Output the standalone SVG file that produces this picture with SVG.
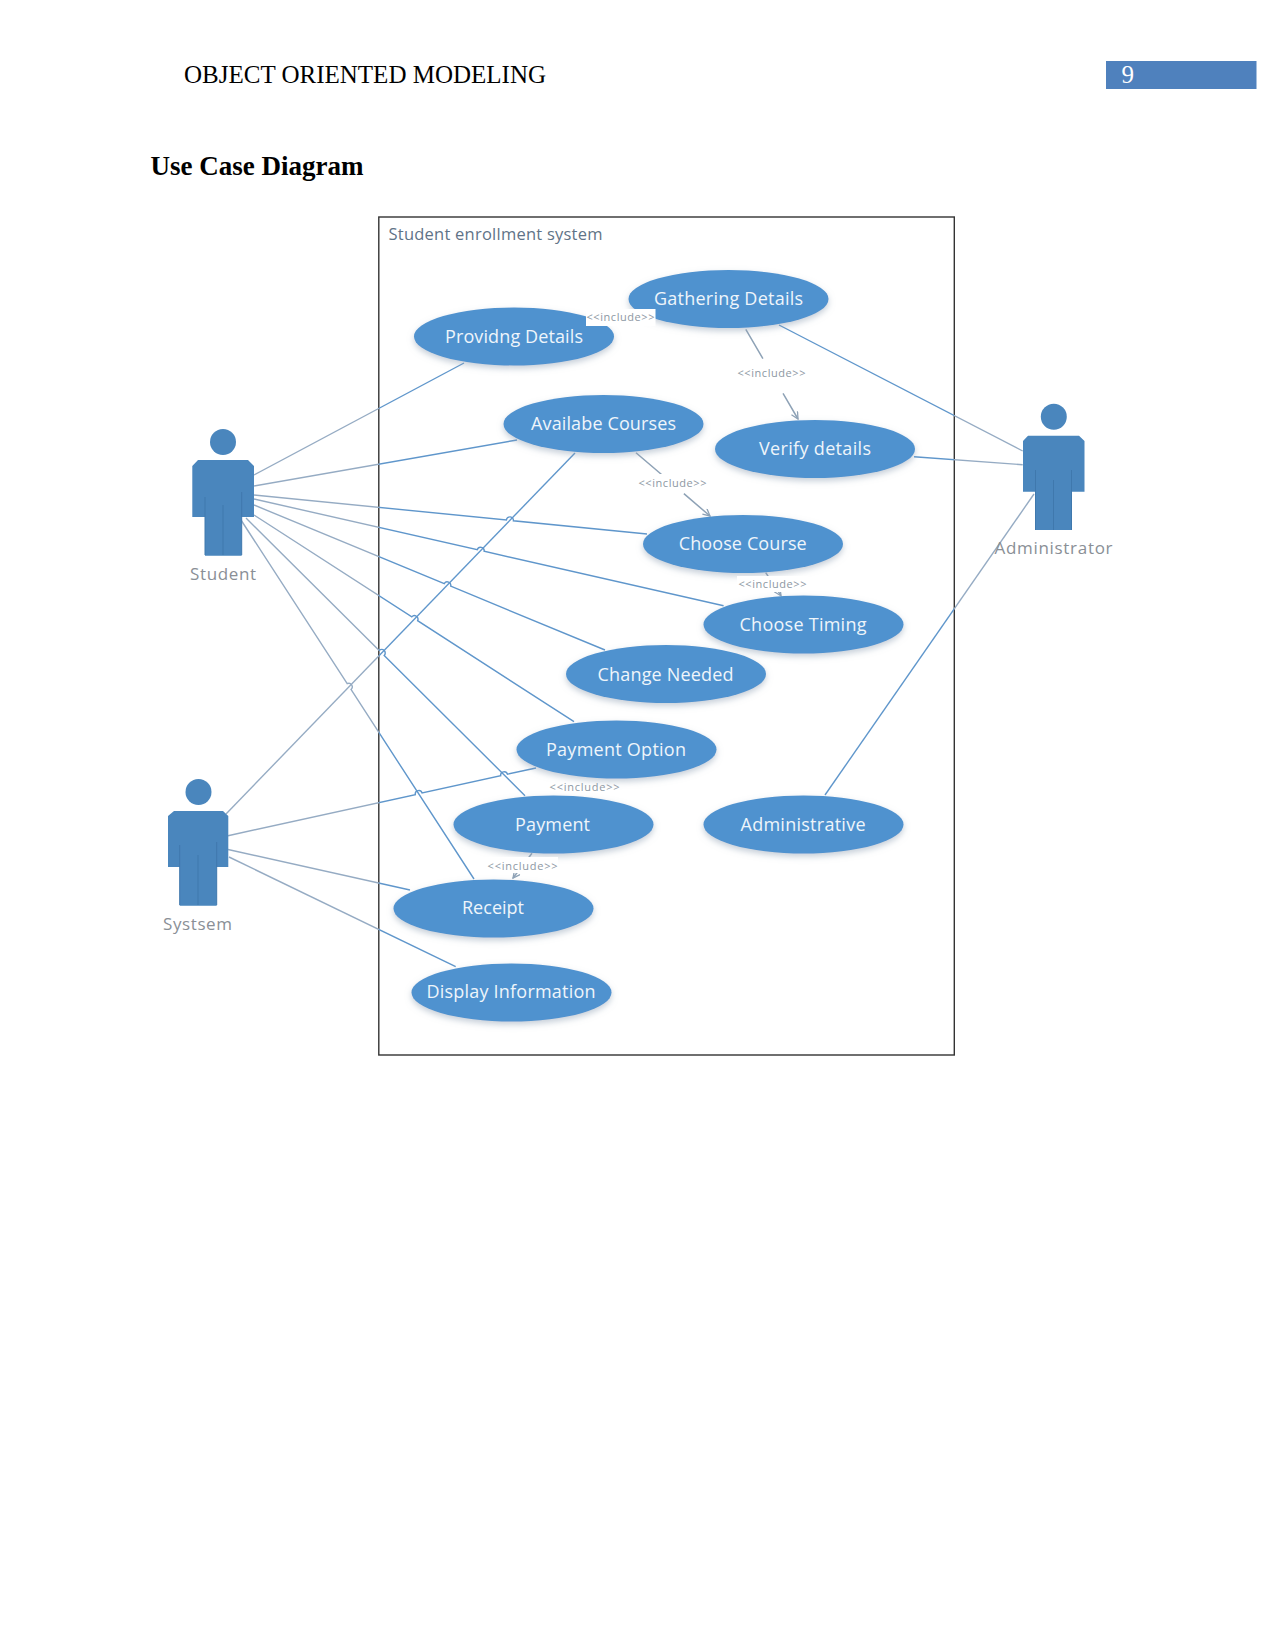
<svg xmlns="http://www.w3.org/2000/svg" width="1275" height="1650" viewBox="0 0 1275 1650">
<style>
.uc{fill:#5092cf;filter:url(#sh)}
.ut{fill:#eef5fb;font:18px "Open Sans",sans-serif;text-anchor:middle}
.act{fill:#4a86bd}
.seam{stroke:#3f78ad;stroke-width:1;fill:none}
.al{fill:#8a8f96;font:17px "Open Sans",sans-serif;text-anchor:middle}
.c{fill:none;stroke:url(#lineshade);stroke-width:1.4}
.d{fill:none;stroke:#8ea2b6;stroke-width:1.5;marker-end:url(#open)}
.inc{fill:#8d98a3;font:11px "Open Sans",sans-serif;text-anchor:middle}
.bg{fill:#fff}
</style>
<defs>
<linearGradient id="lineshade" gradientUnits="userSpaceOnUse" x1="0" y1="0" x2="1275" y2="0">
<stop offset="0.2969" stop-color="#95abc3"/><stop offset="0.2969" stop-color="#5f96cb"/><stop offset="0.7482" stop-color="#5f96cb"/><stop offset="0.7482" stop-color="#95abc3"/>
</linearGradient>
<filter id="sh" x="-10%" y="-20%" width="120%" height="150%"><feGaussianBlur in="SourceGraphic" stdDeviation="0.6" result="b"/><feDropShadow in="b" dx="0" dy="3" stdDeviation="3" flood-color="#8a9db0" flood-opacity="0.5"/></filter>
<marker id="open" markerWidth="12" markerHeight="12" refX="8" refY="4" orient="auto" markerUnits="userSpaceOnUse"><path d="M1,0.500 L8,4 L1,7.500" fill="none" stroke="#8ea2b6" stroke-width="1.3"/></marker>
</defs>
<rect width="1275" height="1650" fill="#fff"/>
<text id="header" x="184" y="83" font-family="Liberation Serif, serif" font-size="25.500" textLength="362" lengthAdjust="spacingAndGlyphs">OBJECT ORIENTED MODELING</text>
<g id="pagenum"><rect x="1106" y="61" width="150.500" height="28" fill="#4f81bd"/><text x="1121.500" y="83" font-family="Liberation Serif, serif" font-size="25" fill="#fff">9</text></g>
<text id="title" x="150.500" y="175" font-family="Liberation Serif, serif" font-size="27.500" font-weight="bold" textLength="213" lengthAdjust="spacingAndGlyphs">Use Case Diagram</text>
<g id="system-boundary"><rect x="378.800" y="217" width="575.500" height="838" fill="#fff" stroke="#333" stroke-width="1.4"/><text x="388.500" y="240" fill="#5f7387" font-family="Open Sans, sans-serif" font-size="16.500" textLength="214">Student enrollment system</text></g>
<g id="connectors">
<path class="c" d="M254,475 L464,363"/>
<path class="c" d="M254,486 L517,440"/>
<path class="c" d="M254,495 L506.400,520 A3.500,3.500 0 0 1 513.400,520.800 L647,534"/>
<path class="c" d="M254,499 L477.300,549.700 A3.500,3.500 0 0 1 484.100,551.300 L723.600,605.700"/>
<path class="c" d="M254,505 L444.300,583.600 A3.500,3.500 0 0 1 450.700,586.200 L605,650"/>
<path class="c" d="M254,515 L411.800,616.900 A3.500,3.500 0 0 1 417.600,620.700 L574,721.700"/>
<path class="c" d="M246,518 L379.200,650.500 A3.500,3.500 0 0 1 384.200,655.500 L525,795.700"/>
<path class="c" d="M241,520 L347.200,683.700 A3.500,3.500 0 0 1 351,689.500 L474,879"/>
<path class="c" d="M226,814 L575,453"/>
<path class="c" d="M228,835.700 L415.300,794.600 A3.500,3.500 0 0 1 422.100,793 L500.700,775.800 A3.500,3.500 0 0 1 507.500,774.200 L536,768"/>
<path class="c" d="M228,849.500 L410,890"/>
<path class="c" d="M229,857 L455.700,966.700"/>
<path class="c" d="M779,325 L1022.700,451"/>
<path class="c" d="M914,456.700 L1022.700,464.700"/>
<path class="c" d="M825,795 L1034,494"/>
<path class="d" stroke-dasharray="34 40 40" d="M745.800,329.300 L798,419"/>
<path class="d" stroke-dasharray="34 29 40" d="M636,452.700 L710,516"/>
<path class="d" d="M765.700,572.700 L781,595.700"/>
<path class="d" d="M532,853.300 L513,878"/>
</g>
<g id="uc-gathering"><ellipse class="uc" cx="728.500" cy="299" rx="100" ry="29"/><text class="ut" x="728.500" y="305" textLength="149">Gathering Details</text></g>
<g id="uc-providing"><ellipse class="uc" cx="514" cy="336.500" rx="100" ry="29"/><text class="ut" x="514" y="342.500" textLength="138">Providng Details</text></g>
<g id="uc-courses"><ellipse class="uc" cx="603.500" cy="424" rx="100" ry="29"/><text class="ut" x="603.500" y="430" textLength="145">Availabe Courses</text></g>
<g id="uc-verify"><ellipse class="uc" cx="815" cy="449" rx="100" ry="29"/><text class="ut" x="815" y="455" textLength="112">Verify details</text></g>
<g id="uc-course"><ellipse class="uc" cx="743" cy="544" rx="100" ry="29"/><text class="ut" x="742.700" y="550" textLength="128">Choose Course</text></g>
<g id="uc-timing"><ellipse class="uc" cx="803.500" cy="624.500" rx="100" ry="29"/><text class="ut" x="803" y="630.500" textLength="127">Choose Timing</text></g>
<g id="uc-change"><ellipse class="uc" cx="666" cy="674" rx="100" ry="29"/><text class="ut" x="665.500" y="680.500" textLength="136">Change Needed</text></g>
<g id="uc-option"><ellipse class="uc" cx="616.500" cy="749.500" rx="100" ry="29"/><text class="ut" x="616" y="755.500" textLength="140">Payment Option</text></g>
<g id="uc-payment"><ellipse class="uc" cx="553.500" cy="824.500" rx="100" ry="29"/><text class="ut" x="552.500" y="830.500" textLength="75">Payment</text></g>
<g id="uc-admin"><ellipse class="uc" cx="803.500" cy="824.500" rx="100" ry="29"/><text class="ut" x="803" y="830.500" textLength="125">Administrative</text></g>
<g id="uc-receipt"><ellipse class="uc" cx="493.500" cy="908.500" rx="100" ry="29"/><text class="ut" x="493" y="914" textLength="62">Receipt</text></g>
<g id="uc-display"><ellipse class="uc" cx="511.500" cy="992.500" rx="100" ry="29"/><text class="ut" x="511" y="998" textLength="169">Display Information</text></g>
<g id="include-labels">
<rect class="bg" x="586" y="309" width="69.500" height="17"/><text class="inc" x="620.500" y="321" textLength="68">&lt;&lt;include&gt;&gt;</text>
<rect class="bg" x="736" y="364" width="71" height="18"/><text class="inc" x="771.500" y="377" textLength="68">&lt;&lt;include&gt;&gt;</text>
<rect class="bg" x="637" y="474" width="71" height="18"/><text class="inc" x="672.500" y="487" textLength="68">&lt;&lt;include&gt;&gt;</text>
<rect class="bg" x="737" y="576" width="71" height="16"/><text class="inc" x="772.500" y="588" textLength="68">&lt;&lt;include&gt;&gt;</text>
<text class="inc" x="584.600" y="791" textLength="70">&lt;&lt;include&gt;&gt;</text>
<rect class="bg" x="487" y="857" width="71" height="16"/><text class="inc" x="522.600" y="870" textLength="70">&lt;&lt;include&gt;&gt;</text>
</g>
<g id="actor-student">
<circle class="act" cx="223" cy="442" r="13"/>
<path class="act" d="M198,460 H248 L254,466 V517 H241.700 V555.700 H205 V517 H192.300 V466 Z" stroke="#a9c6e0" stroke-width="0"/>
<path class="seam" d="M205,497 V555 M241.700,492 V555 M223,505 V555"/>
<text class="al" x="223" y="580" textLength="66">Student</text>
</g>
<g id="actor-system">
<circle class="act" cx="198.500" cy="792" r="13"/>
<path class="act" d="M174,811 H223 L228.300,816 V867 H216.700 V905.700 H179.700 V867 H168 V816 Z"/>
<path class="seam" d="M179.700,845 V905 M216.700,842 V905 M198,855 V905"/>
<text class="al" x="197.500" y="930" textLength="69">Systsem</text>
</g>
<g id="actor-administrator">
<circle class="act" cx="1053.800" cy="416.700" r="13"/>
<path class="act" d="M1028,435.700 H1079 L1084.500,441 V491.700 H1071.500 V530 H1035.500 V491.700 H1023 V441 Z"/>
<path class="seam" d="M1035.500,470 V530 M1071.500,470 V530 M1053.500,480 V530"/>
<text class="al" x="1053.500" y="554" textLength="118">Administrator</text>
</g>
</svg>
